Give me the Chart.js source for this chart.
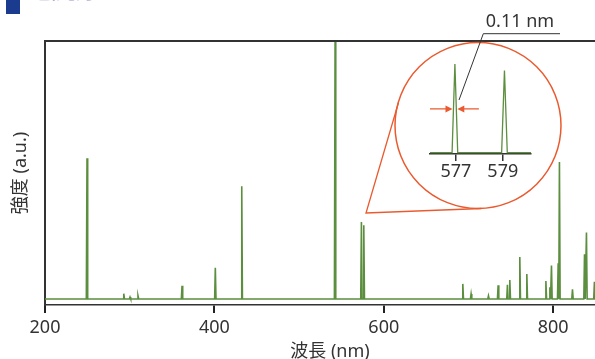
<!DOCTYPE html>
<html lang="ja">
<head>
<meta charset="UTF-8">
<script src="https://cdn.jsdelivr.net/npm/chart.js"></script>
<title>スペクトル</title>
<style>
    html, body { margin: 0; padding: 0; background: #fff; overflow: hidden; }
    .wrap { position: relative; width: 595px; height: 359px; overflow: hidden; }
    #main { position: absolute; left: 0; top: 0; }
    #inset { position: absolute; left: 380px; top: 0; }
    .mark { position: absolute; left: 6px; top: 0; width: 14px; height: 14px; background: #1b3b8e; }
    .head { position: absolute; left: 36px; top: -24px; font: 20px "Noto Sans CJK JP"; color: #9a9cc8; white-space: nowrap; }
</style>
</head>
<body>
<div class="wrap">
    <div class="mark"></div>
    <div class="head">蛍光灯のスペクトル</div>
    <canvas id="main" width="615" height="365"></canvas>
    <canvas id="inset" width="215" height="220"></canvas>
</div>
<script>
    // 主スペクトル (ピーク位置 nm / 強度 a.u.)
    const peakNm = [249.6, 293.0, 300.4, 309.8, 361.8, 401.1, 432.3, 542.5, 573.6, 576.4,
        693.3, 703.1, 723.6, 735.0, 746.0, 748.8, 760.6, 768.9, 791.4, 796.1, 798.0,
        805.9, 807.4, 822.8, 837.0, 839.3, 848.7];
    const peakHeight = [55.6, 4.3, 3.0, 3.5, 7.3, 14.1, 45.0, 100, 31.4, 30.2,
        8.0, 4.2, 3.5, 7.5, 7.7, 9.5, 18.2, 11.7, 9.1, 6.7, 15.0,
        15.8, 54.2, 5.9, 19.2, 27.5, 8.8];
    const baseLevel = 2.3;
    const xTicks = [200, 400, 600, 800];

    // 拡大図 (577 / 579 nm)
    const insetNm = [576.96, 579.07];
    const insetHeight = [81.9, 75.8];
    const insetBase = 1.2;
    const insetTicks = [577, 579];

    const green = '#5b8e3e';
    const orange = '#ea5a2e';
    const ink = '#333';
    const fam = '"Noto Sans", "Noto Sans CJK JP", sans-serif';

    function buildLine(nm, h, base, half, xmin, xmax) {
        const pts = [{x: xmin, y: base}];
        nm.forEach((v, i) => {
            pts.push({x: v - half, y: base});
            pts.push({x: v, y: h[i]});
            pts.push({x: v + half, y: base});
        });
        pts.push({x: xmax, y: base});
        return pts;
    }

    const mainDeco = {
        id: 'mainDeco',
        afterDraw(chart) {
            const {ctx, chartArea} = chart;
            ctx.save();
            ctx.strokeStyle = ink;
            ctx.lineWidth = 2;
            ctx.beginPath();
            ctx.moveTo(chartArea.left - 1, chartArea.top);
            ctx.lineTo(chartArea.right, chartArea.top);
            ctx.stroke();
            // 拡大の引き出し線
            ctx.strokeStyle = orange;
            ctx.lineWidth = 1.3;
            ctx.beginPath();
            ctx.moveTo(398.5, 102.5);
            ctx.lineTo(366, 213);
            ctx.lineTo(481.5, 208.5);
            ctx.stroke();
            ctx.restore();
        }
    };

    new Chart(document.getElementById('main'), {
        type: 'line',
        data: {
            datasets: [{
                data: buildLine(peakNm, peakHeight, baseLevel, 0.8, 200, 873),
                borderColor: green,
                borderWidth: 1.6,
                pointRadius: 0,
                tension: 0
            }]
        },
        options: {
            responsive: false,
            animation: false,
            devicePixelRatio: 1,
            layout: {padding: {top: 41, left: 0, right: 0, bottom: 0}},
            plugins: {legend: {display: false}, tooltip: {enabled: false}},
            scales: {
                x: {
                    type: 'linear',
                    min: 200,
                    max: 873,
                    afterBuildTicks: s => { s.ticks = xTicks.map(v => ({value: v})); },
                    afterFit: s => { s.height = 60; },
                    ticks: {font: {family: fam, size: 18}, color: ink, padding: 4, maxRotation: 0, autoSkip: false},
                    grid: {display: true, drawOnChartArea: false, drawTicks: true, tickLength: 8, color: '#222', lineWidth: 2},
                    border: {display: true, color: ink, width: 1.5},
                    title: {display: true, text: '波長 (nm)', font: {family: fam, size: 18}, color: ink, padding: {top: 0, bottom: 2}}
                },
                y: {
                    min: 0,
                    max: 100,
                    afterFit: s => { s.width = 45; },
                    ticks: {display: false},
                    grid: {display: false},
                    border: {display: true, color: ink, width: 2},
                    title: {display: true, text: '強度 (a.u.)', font: {family: fam, size: 18}, color: ink, padding: {top: 10.5, bottom: 0}}
                }
            }
        },
        plugins: [mainDeco]
    });

    const insetDeco = {
        id: 'insetDeco',
        afterDraw(chart) {
            const {ctx} = chart;
            const xs = chart.scales.x, ys = chart.scales.y;
            const px = xs.getPixelForValue(insetNm[0]);
            const py = ys.getPixelForValue(insetHeight[0] / 2);
            ctx.save();
            // 円
            ctx.strokeStyle = orange;
            ctx.lineWidth = 1.5;
            ctx.beginPath();
            ctx.arc(98, 125.5, 83, 0, Math.PI * 2);
            ctx.stroke();
            // 半値幅の矢印
            ctx.fillStyle = orange;
            ctx.lineWidth = 1.3;
            const gap = 2.4;
            ctx.beginPath();
            ctx.moveTo(chart.chartArea.left, py);
            ctx.lineTo(px - gap - 5, py);
            ctx.moveTo(px + gap + 5, py);
            ctx.lineTo(px + 24, py);
            ctx.stroke();
            ctx.beginPath();
            ctx.moveTo(px - gap, py);
            ctx.lineTo(px - gap - 7, py - 3.5);
            ctx.lineTo(px - gap - 7, py + 3.5);
            ctx.closePath();
            ctx.moveTo(px + gap, py);
            ctx.lineTo(px + gap + 7, py - 3.5);
            ctx.lineTo(px + gap + 7, py + 3.5);
            ctx.closePath();
            ctx.fill();
            // 注記
            ctx.strokeStyle = ink;
            ctx.lineWidth = 1;
            ctx.beginPath();
            ctx.moveTo(79, 100);
            ctx.lineTo(103.3, 33.7);
            ctx.lineTo(180, 33.7);
            ctx.stroke();
            ctx.fillStyle = ink;
            ctx.font = '18px ' + fam;
            ctx.textAlign = 'center';
            ctx.textBaseline = 'middle';
            ctx.fillText('0.11 nm', 140, 22);
            ctx.restore();
        }
    };

    new Chart(document.getElementById('inset'), {
        type: 'line',
        data: {
            datasets: [{
                data: buildLine(insetNm, insetHeight, insetBase, 0.12, 575.9, 580.2),
                borderColor: green,
                borderWidth: 1.3,
                pointRadius: 0,
                tension: 0
            }]
        },
        options: {
            responsive: false,
            animation: false,
            devicePixelRatio: 1,
            layout: {padding: {top: 44, left: 50, right: 64, bottom: 0}},
            plugins: {legend: {display: false}, tooltip: {enabled: false}},
            scales: {
                x: {
                    type: 'linear',
                    min: 575.9,
                    max: 580.2,
                    afterBuildTicks: s => { s.ticks = insetTicks.map(v => ({value: v})); },
                    afterFit: s => { s.height = 66; },
                    ticks: {font: {family: fam, size: 18}, color: ink, padding: 0, maxRotation: 0, autoSkip: false},
                    grid: {display: true, drawOnChartArea: false, drawTicks: true, tickLength: 7, color: ink, lineWidth: 1.5},
                    border: {display: true, color: ink, width: 1.5}
                },
                y: {min: 0, max: 100, display: false}
            }
        },
        plugins: [insetDeco]
    });
</script>
</body>
</html>
